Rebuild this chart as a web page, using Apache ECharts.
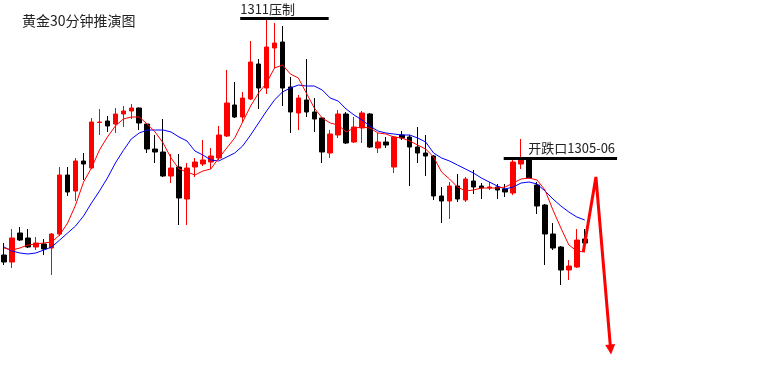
<!DOCTYPE html>
<html><head><meta charset="utf-8">
<script src="https://cdn.jsdelivr.net/npm/echarts@6/dist/echarts.min.js"></script>
<style>html,body{margin:0;padding:0;background:#fff}#c{width:775px;height:383px}</style>
</head><body><div id="c"></div>
<script>
// OHLC bars: [open, close, low, high]
const ohlc = [
[1301.80,1301.52,1301.40,1302.28],[1301.52,1302.48,1301.28,1302.84],[1302.68,1302.40,1302.36,1302.92],[1302.48,1302.12,1302.08,1302.84],
[1302.12,1302.28,1302.00,1302.52],[1302.24,1302.04,1301.80,1302.44],[1302.08,1302.64,1301.00,1302.68],[1302.64,1305.00,1302.56,1305.32],
[1305.00,1304.32,1304.16,1305.32],[1304.36,1305.56,1303.96,1305.68],[1305.56,1305.44,1304.80,1305.88],[1305.28,1307.12,1305.24,1307.28],
[1307.10,1307.12,1306.60,1307.64],[1307.16,1306.96,1306.72,1307.36],[1307.04,1307.44,1306.68,1307.68],[1307.44,1307.56,1306.92,1307.76],
[1307.56,1307.68,1307.24,1307.84],[1307.68,1307.08,1306.80,1307.70],[1307.04,1306.04,1305.88,1307.08],[1306.04,1305.92,1305.48,1306.60],
[1305.92,1304.96,1304.92,1307.24],[1304.96,1305.28,1304.68,1305.84],[1305.32,1304.08,1303.00,1305.84],[1304.04,1305.28,1303.00,1305.48],
[1305.32,1305.52,1304.92,1305.68],[1305.44,1305.60,1305.36,1306.40],[1305.52,1305.76,1305.24,1306.08],[1305.68,1306.60,1305.60,1306.96],
[1306.56,1307.88,1306.52,1309.20],[1307.80,1307.32,1307.28,1308.72],[1307.32,1308.08,1307.12,1308.32],[1308.04,1309.52,1308.00,1310.36],
[1309.44,1308.48,1307.64,1309.64],[1308.48,1310.12,1308.24,1311.24],[1310.08,1310.28,1309.28,1311.08],[1310.32,1308.48,1307.76,1310.96],
[1308.52,1307.52,1306.68,1308.92],[1307.48,1308.08,1306.80,1308.20],[1308.00,1307.52,1307.32,1309.64],[1307.52,1307.24,1306.72,1308.08],
[1307.28,1305.92,1305.48,1307.30],[1305.88,1306.64,1305.68,1306.80],[1306.60,1307.44,1306.48,1307.60],[1307.44,1306.28,1306.24,1307.52],
[1306.32,1306.92,1306.28,1307.32],[1306.88,1307.48,1306.28,1307.56],[1307.44,1306.12,1306.08,1307.48],[1306.08,1306.32,1305.88,1306.68],
[1306.32,1306.20,1306.08,1306.52],[1305.32,1306.52,1305.08,1306.56],[1306.60,1306.48,1306.40,1306.76],[1306.52,1306.12,1304.56,1306.60],
[1306.12,1305.88,1305.48,1306.92],[1305.88,1305.76,1304.96,1306.60],[1305.76,1304.16,1304.00,1305.80],[1304.16,1303.96,1303.08,1304.52],
[1303.96,1304.56,1303.24,1304.72],[1304.56,1304.04,1303.92,1305.04],[1304.00,1304.84,1303.92,1304.92],[1304.76,1304.52,1304.24,1305.20],
[1304.56,1304.48,1304.04,1304.68],[1304.48,1304.52,1304.40,1304.72],[1304.52,1304.40,1304.04,1304.64],[1304.44,1304.32,1304.12,1304.64],
[1304.28,1305.52,1304.20,1305.68],[1305.44,1305.64,1305.24,1306.44],[1305.64,1304.88,1304.88,1305.68],[1304.60,1303.76,1303.44,1304.72],
[1303.80,1302.64,1301.40,1303.84],[1302.64,1302.08,1302.00,1303.08],[1302.12,1301.20,1300.60,1302.16],[1301.20,1301.36,1300.80,1301.60],
[1301.32,1302.40,1301.28,1302.84],[1302.44,1302.28,1302.20,1302.84]
];
// fast moving average (red)
const maFast = [
1302.08,1302.00,1302.08,1302.20,1302.24,1302.28,1302.32,1302.60,1303.08,1303.80,1304.72,1305.28,1306.00,1306.52,1306.96,1307.24,
1307.32,1307.32,1307.04,1306.72,1306.28,1305.68,1305.24,1305.12,1305.00,1305.16,1305.24,1305.68,1306.08,1306.48,1307.12,1307.76,
1308.28,1308.68,1309.28,1309.40,1309.04,1308.88,1308.28,1307.68,1307.28,1307.08,1307.00,1306.72,1306.88,1306.92,1306.88,1306.68,
1306.64,1306.52,1306.48,1306.36,1306.20,1306.04,1305.72,1305.12,1304.84,1304.52,1304.36,1304.40,1304.48,1304.48,1304.48,1304.52,
1304.68,1304.84,1304.88,1304.80,1304.40,1303.60,1302.88,1302.20,1301.96,1301.92
];
// slow moving average (blue)
const maSlow = [
1302.12,1301.96,1301.88,1301.84,1301.88,1302.00,1302.12,1302.40,1302.68,1302.96,1303.36,1303.88,1304.36,1304.88,1305.48,1305.98,
1306.44,1306.68,1306.80,1306.80,1306.80,1306.72,1306.52,1306.36,1305.96,1305.80,1305.60,1305.56,1305.72,1305.88,1306.16,1306.60,
1307.08,1307.56,1308.00,1308.32,1308.48,1308.60,1308.56,1308.56,1308.40,1308.08,1307.96,1307.64,1307.40,1307.20,1306.96,1306.76,
1306.68,1306.64,1306.60,1306.60,1306.48,1306.32,1305.88,1305.68,1305.56,1305.40,1305.24,1305.08,1304.88,1304.72,1304.56,1304.44,
1304.52,1304.68,1304.72,1304.64,1304.36,1304.04,1303.76,1303.52,1303.32,1303.20
];
// projected path: [bar position, price]
const projection = [[72.81,1301.92],[74.40,1304.92],[76.25,1298.02]];
// annotated levels
const resistLevel = 1311.28, resistFrom = 29.69, resistTo = 40.81, resistText = '1311压制';
const gapLevel = 1305.68, gapFrom = 62.81, gapTo = 77.06, gapText = '开跌口1305-06';
const titleText = '黄金30分钟推演图';
const slotCount = 80;
const categories = Array.from({length: slotCount}, (_, i) => String(i + 1));

const chart = echarts.init(document.getElementById('c'), null, {renderer: 'canvas'});
const projData = projection.map((p, i) => i === projection.length - 1
  ? {value: p, symbol: 'triangle', symbolSize: [10, 10], symbolRotate: 185}
  : {value: p, symbol: 'none'});
chart.setOption({
  animation: false,
  backgroundColor: '#ffffff',
  title: {text: titleText, left: 22, top: 14, padding: 0,
    textStyle: {fontSize: 14, fontWeight: 'normal', color: '#222', fontFamily: 'Noto Sans CJK SC'}},
  grid: {left: -3.5, top: 0, width: slotCount * 8, height: 383, containLabel: false},
  xAxis: [
    {type: 'category', data: categories, boundaryGap: true, show: false},
    {type: 'value', min: -0.5, max: slotCount - 0.5, show: false}
  ],
  yAxis: {type: 'value', min: 1296.68, max: 1312, show: false, scale: true},
  series: [
    {type: 'candlestick', data: ohlc, barWidth: 5, clip: false,
      itemStyle: {color: '#ff0000', color0: '#000000', borderColor: '#ff0000', borderColor0: '#000000', borderWidth: 1}},
    {type: 'line', data: maSlow, showSymbol: false, symbol: 'none', clip: false,
      lineStyle: {color: '#0000ff', width: 1}},
    {type: 'line', data: maFast, showSymbol: false, symbol: 'none', clip: false,
      lineStyle: {color: '#ff0000', width: 1}},
    {type: 'line', xAxisIndex: 1, data: projData, clip: false, showSymbol: true,
      lineStyle: {color: '#ff0000', width: 3}, itemStyle: {color: '#ff0000'},
      markLine: {silent: true, symbol: ['none', 'none'], animation: false,
        lineStyle: {color: '#000', width: 3, type: 'solid'},
        label: {color: '#222', fontSize: 13, fontFamily: 'Noto Sans CJK SC'},
        data: [
          [{coord: [resistFrom, resistLevel], label: {formatter: resistText, position: 'insideStartTop', distance: [0, 2]}},
           {coord: [resistTo, resistLevel]}],
          [{coord: [gapFrom, gapLevel], label: {formatter: gapText, position: 'insideEndTop', distance: [2, 3]}},
           {coord: [gapTo, gapLevel]}]
        ]}}
  ]
});
</script></body></html>
